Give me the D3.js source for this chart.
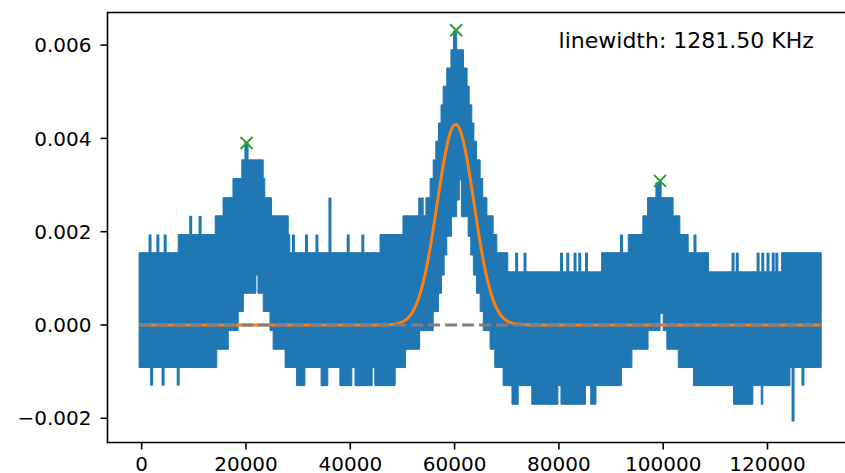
<!DOCTYPE html>
<html>
<head>
<meta charset="utf-8">
<script src="https://d3js.org/d3.v7.min.js"></script>
<style>
  body { margin: 0; background: #fff; }
  svg { display: block; }
  .tick text { font-family: "DejaVu Sans", sans-serif; font-size: 20px; fill: #000; }
  .note { font-family: "DejaVu Sans", sans-serif; font-size: 22px; fill: #000; }
</style>
</head>
<body>
<svg id="chart" width="845" height="473"></svg>
<script>
// signal band (value holds from x[i] to x[i+1])
var signalStart = -500, signalEnd = 130300;

var upperX = [-500, 7000, 14100, 15600, 17500, 19200, 19800, 20400, 23300, 23600, 24900, 28100, 28400,
  45700, 50100, 54500, 55300, 55900, 56400, 56900, 57400, 57800, 58500, 59300, 59800, 60400, 61700,
  62400, 62800, 63300, 63700, 64200, 64900, 65400, 66200, 67400, 68100, 70200, 88200, 93300, 96100,
  97000, 98600, 99600, 101900, 103200, 104800, 108700, 122700];
var upperY = [0.00155, 0.00194, 0.00234, 0.00273, 0.00314, 0.00354, 0.0039, 0.00354, 0.00314, 0.00273, 0.00234, 0.00194, 0.00155,
  0.00194, 0.00234, 0.00273, 0.00314, 0.00354, 0.00394, 0.00433, 0.00472, 0.00512, 0.00551, 0.0059, 0.0063, 0.0059, 0.00551,
  0.00512, 0.00472, 0.00433, 0.00394, 0.00354, 0.00314, 0.00273, 0.00234, 0.00194, 0.00155, 0.00114, 0.00155, 0.00194, 0.00234,
  0.00273, 0.00305, 0.00273, 0.00234, 0.00194, 0.00155, 0.00114, 0.00155];

var lowerX = [-500, 14400, 16600, 18500, 19500, 21900, 22300, 23300, 24600, 25200, 27500, 29700, 31300, 34400, 35700,
  38000, 40300, 40900, 44200, 44700, 48600, 50600, 53300, 55900, 56900, 57500, 58000, 58500, 59400, 60400,
  60900, 61300, 62600, 63100, 63600, 64200, 64900, 65500, 66800, 67700, 69300, 71000, 72200, 74800, 79800,
  80400, 85100, 86100, 87100, 92000, 94000, 97100, 99400, 100000, 100700, 102900, 105800, 113500, 117200,
  118800, 119100, 124300];
var lowerY = [-0.00091, -0.00052, -0.00012, 0.00029, 0.00068, 0.00107, 0.00068, 0.00029, -0.00012, -0.00052, -0.00091, -0.0013, -0.00091, -0.0013, -0.00091,
  -0.0013, -0.00091, -0.0013, -0.00091, -0.0013, -0.00091, -0.00052, -0.00012, 0.00029, 0.00068, 0.00107, 0.0015, 0.0019, 0.00232, 0.00268,
  0.00311, 0.00232, 0.0019, 0.0015, 0.00107, 0.00068, 0.00029, -0.00012, -0.00052, -0.00091, -0.0013, -0.0017, -0.0013, -0.0017, -0.0013,
  -0.0017, -0.0013, -0.0017, -0.0013, -0.00091, -0.00052, -0.00012, 0.00025, -0.00012, -0.00052, -0.00091, -0.0013, -0.0017, -0.0013,
  -0.0017, -0.0013, -0.00091];

// single samples sticking out of the band
var spikeUpX = [1600, 3100, 4500, 9400, 11200, 29100, 31600, 33600, 36100, 39600, 42400, 53300, 53800,
  71900, 73500, 80500, 81700, 83100, 84000, 85300, 92000, 106100, 113400, 114200, 118200, 119100, 120100, 121100, 121800];
var spikeUpY = [0.00194, 0.00194, 0.00194, 0.00234, 0.00234, 0.00194, 0.00194, 0.00194, 0.00273, 0.00194, 0.00194, 0.00273, 0.00273,
  0.00155, 0.00155, 0.00155, 0.00155, 0.00155, 0.00155, 0.00155, 0.00194, 0.00194, 0.00155, 0.00155, 0.00155, 0.00155, 0.00155, 0.00155, 0.00155];
var spikeDownX = [1900, 4100, 7000, 124900, 126800];
var spikeDownY = [-0.0013, -0.0013, -0.0013, -0.00207, -0.0013];

// gaussian fit (orange)
var fitX = [-500, 45000, 47000, 48000, 49000, 50000, 51000, 52000, 53000, 54000, 55000, 56000, 57000, 58000, 59000,
  60000, 60400, 61000, 62000, 63000, 64000, 65000, 66000, 67000, 68000, 69000, 70000, 71000, 72000, 73000, 75000, 130300];
var fitY = [0, 0, 0, 0.00001, 0.00003, 0.00007, 0.00014, 0.00029, 0.00054, 0.00092, 0.00145, 0.00212, 0.00285, 0.00354, 0.00406,
  0.00429, 0.0043, 0.00419, 0.00378, 0.00314, 0.00241, 0.0017, 0.00111, 0.00067, 0.00037, 0.00019, 0.00009, 0.00004, 0.00002, 0.00001, 0, 0];

// detected peaks (green x)
var peakX = [20100, 60300, 99400];
var peakY = [0.0039, 0.00632, 0.00309];

var xTicks = [0, 20000, 40000, 60000, 80000, 100000, 120000];
var yTicks = [-0.002, 0, 0.002, 0.004, 0.006];
var noteText = "linewidth: 1281.50 KHz";

var svg = d3.select("#chart");
var padLeft = 107.5, padTop = 12.5, padBottom = 442.5, padRight = 859.4;

var x = d3.scaleLinear().domain([-6558, 137626]).range([padLeft, padRight]);
var y = d3.scaleLinear().domain([-0.002519, 0.006699]).range([padBottom, padTop]);

function stepAt(xs, ys, v) {
  var i = d3.bisectRight(xs, v) - 1;
  return ys[Math.max(0, i)];
}

// band outline: upper edge left to right, lower edge back
var pts = [];
upperX.forEach(function(x0, i) {
  var x1 = i + 1 < upperX.length ? upperX[i + 1] : signalEnd;
  pts.push([x0, upperY[i]], [x1, upperY[i]]);
});
for (var i = lowerX.length - 1; i >= 0; i--) {
  var x1 = i + 1 < lowerX.length ? lowerX[i + 1] : signalEnd;
  pts.push([x1, lowerY[i]], [lowerX[i], lowerY[i]]);
}
var line = d3.line().x(function(d) { return x(d[0]); }).y(function(d) { return y(d[1]); });

var plot = svg.append("g");

plot.append("path")
  .attr("d", line(pts) + "Z")
  .attr("fill", "#1f77b4")
  .attr("stroke", "#1f77b4")
  .attr("stroke-width", 1);

plot.selectAll("line.up")
  .data(spikeUpX)
  .enter().append("line")
    .attr("class", "up")
    .attr("x1", function(d) { return x(d); })
    .attr("x2", function(d) { return x(d); })
    .attr("y1", function(d) { return y(stepAt(upperX, upperY, d)); })
    .attr("y2", function(d, i) { return y(spikeUpY[i]); })
    .attr("stroke", "#1f77b4")
    .attr("stroke-width", 3);

plot.selectAll("line.down")
  .data(spikeDownX)
  .enter().append("line")
    .attr("class", "down")
    .attr("x1", function(d) { return x(d); })
    .attr("x2", function(d) { return x(d); })
    .attr("y1", function(d) { return y(stepAt(lowerX, lowerY, d)); })
    .attr("y2", function(d, i) { return y(spikeDownY[i]); })
    .attr("stroke", "#1f77b4")
    .attr("stroke-width", 3);

// fit curve
plot.append("path")
  .datum(fitX.map(function(d, i) { return [d, fitY[i]]; }))
  .attr("d", d3.line().x(function(d) { return x(d[0]); }).y(function(d) { return y(d[1]); }).curve(d3.curveMonotoneX))
  .attr("fill", "none")
  .attr("stroke", "#ff7f0e")
  .attr("stroke-width", 3);

// zero line
plot.append("line")
  .attr("x1", x(signalStart)).attr("x2", x(signalEnd))
  .attr("y1", y(0)).attr("y2", y(0))
  .attr("stroke", "#808080")
  .attr("stroke-width", 3)
  .attr("stroke-dasharray", "12,5");

// peak markers
plot.selectAll("path.peak")
  .data(peakX)
  .enter().append("path")
    .attr("class", "peak")
    .attr("transform", function(d, i) { return "translate(" + x(d) + "," + y(peakY[i]) + ")"; })
    .attr("d", "M-6,-6L6,6M-6,6L6,-6")
    .attr("stroke", "#2ca02c")
    .attr("stroke-width", 2)
    .attr("fill", "none");

// axes
var yAxis = d3.axisLeft(y).tickValues(yTicks).tickSize(7).tickSizeOuter(0).tickPadding(9)
  .tickFormat(d3.format(".3f")).offset(0);
var xAxis = d3.axisBottom(x).tickValues(xTicks).tickSize(7).tickSizeOuter(0).tickPadding(7)
  .tickFormat(d3.format("d")).offset(0);

var gy = svg.append("g").attr("transform", "translate(" + padLeft + ",0)").call(yAxis);
var gx = svg.append("g").attr("transform", "translate(0," + padBottom + ")").call(xAxis);
gy.selectAll("text").attr("dy", "0.36em");
svg.selectAll(".domain, .tick line").attr("stroke", "#000").attr("stroke-width", 1.6);
svg.selectAll(".domain").attr("stroke-linecap", "square");

svg.append("line")
  .attr("x1", padLeft).attr("x2", padRight)
  .attr("y1", padTop).attr("y2", padTop)
  .attr("stroke", "#000").attr("stroke-width", 1.6);

svg.append("text")
  .attr("class", "note")
  .attr("x", 558.6)
  .attr("y", 48)
  .text(noteText);
</script>
</body>
</html>
